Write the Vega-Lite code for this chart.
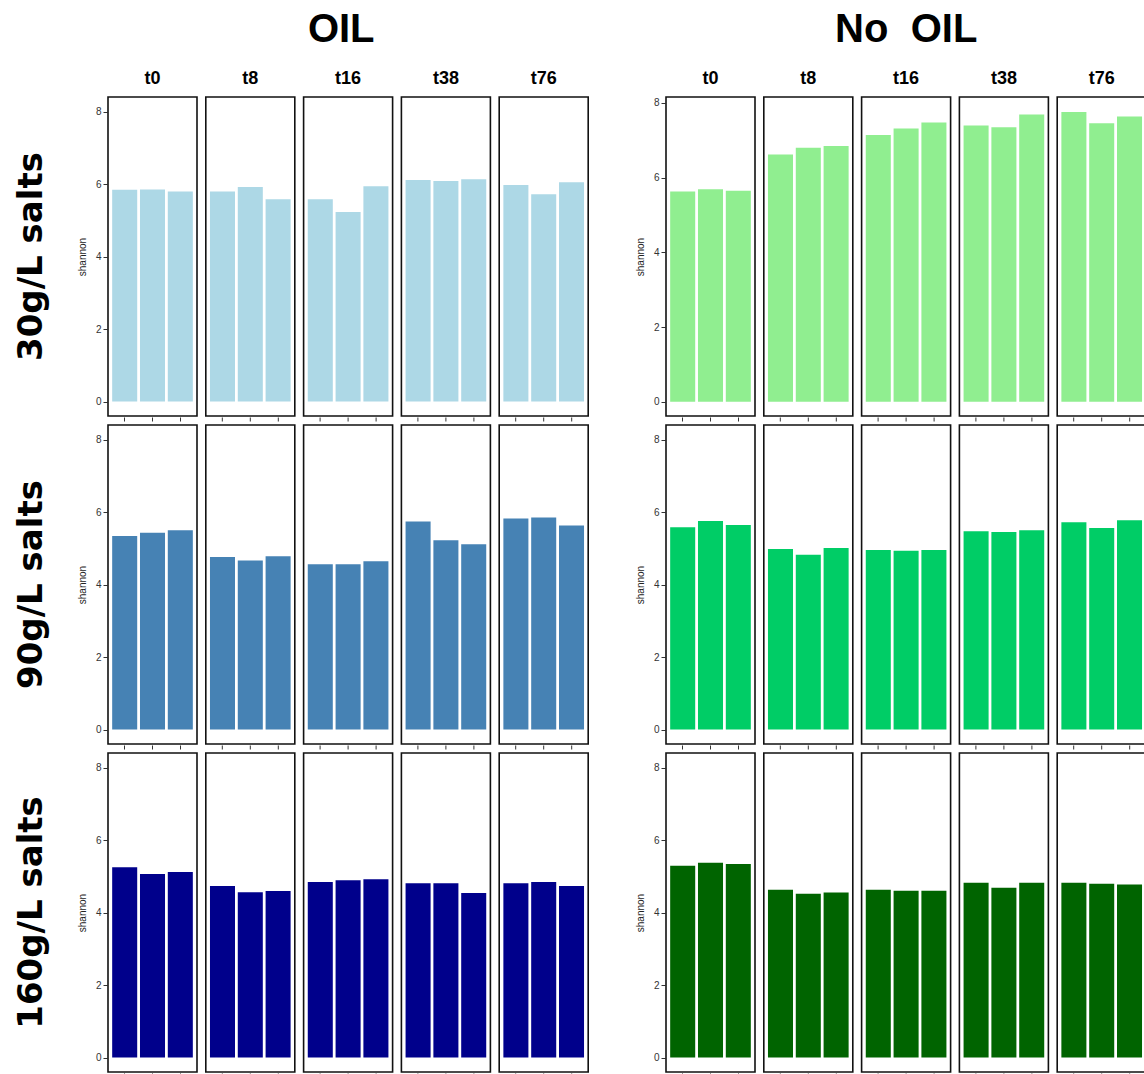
{
  "$schema": "https://vega.github.io/schema/vega-lite/v6.json",
  "padding": {"left": 15, "top": 10, "right": 0, "bottom": 0},
  "background": "white",
  "config": {
    "font": "Liberation Sans",
    "view": {"stroke": "#111111", "strokeWidth": 1.6},
    "facet": {"spacing": 6.8},
    "axis": {"grid": false},
    "axisX": {"labels": false, "ticks": true, "tickSize": 4, "tickColor": "#333333", "domain": false, "title": null},
    "axisY": {"tickSize": 4, "tickColor": "#333333", "labelFontSize": 10, "labelColor": "#333333", "labelPadding": 2, "domain": false, "titleFontSize": 10, "titleFontWeight": "normal", "titleColor": "#222222", "titlePadding": 8},
    "headerColumn": {"labelFontSize": 18, "labelFontWeight": "bold", "labelColor": "#000000", "labelPadding": 8},
    "headerRow": {"labelFontSize": 34, "labelFont": "DejaVu Sans", "labelFontWeight": "bold", "labelColor": "#000000", "labelAngle": -90, "labelOrient": "left", "labelPadding": 11},
    "title": {"fontSize": 40, "fontWeight": "bold", "color": "#000000", "anchor": "middle"}
  },
  "datasets": {
    "shannon": [
      {"oil": "OIL", "salt": "30g/L salts", "time": "t0", "rep": 1, "shannon": 5.84},
      {"oil": "OIL", "salt": "30g/L salts", "time": "t0", "rep": 2, "shannon": 5.85},
      {"oil": "OIL", "salt": "30g/L salts", "time": "t0", "rep": 3, "shannon": 5.79},
      {"oil": "OIL", "salt": "30g/L salts", "time": "t8", "rep": 1, "shannon": 5.79},
      {"oil": "OIL", "salt": "30g/L salts", "time": "t8", "rep": 2, "shannon": 5.92},
      {"oil": "OIL", "salt": "30g/L salts", "time": "t8", "rep": 3, "shannon": 5.58},
      {"oil": "OIL", "salt": "30g/L salts", "time": "t16", "rep": 1, "shannon": 5.58},
      {"oil": "OIL", "salt": "30g/L salts", "time": "t16", "rep": 2, "shannon": 5.23},
      {"oil": "OIL", "salt": "30g/L salts", "time": "t16", "rep": 3, "shannon": 5.94},
      {"oil": "OIL", "salt": "30g/L salts", "time": "t38", "rep": 1, "shannon": 6.11},
      {"oil": "OIL", "salt": "30g/L salts", "time": "t38", "rep": 2, "shannon": 6.08},
      {"oil": "OIL", "salt": "30g/L salts", "time": "t38", "rep": 3, "shannon": 6.13},
      {"oil": "OIL", "salt": "30g/L salts", "time": "t76", "rep": 1, "shannon": 5.97},
      {"oil": "OIL", "salt": "30g/L salts", "time": "t76", "rep": 2, "shannon": 5.72},
      {"oil": "OIL", "salt": "30g/L salts", "time": "t76", "rep": 3, "shannon": 6.05},
      {"oil": "OIL", "salt": "90g/L salts", "time": "t0", "rep": 1, "shannon": 5.34},
      {"oil": "OIL", "salt": "90g/L salts", "time": "t0", "rep": 2, "shannon": 5.43},
      {"oil": "OIL", "salt": "90g/L salts", "time": "t0", "rep": 3, "shannon": 5.5},
      {"oil": "OIL", "salt": "90g/L salts", "time": "t8", "rep": 1, "shannon": 4.76},
      {"oil": "OIL", "salt": "90g/L salts", "time": "t8", "rep": 2, "shannon": 4.66},
      {"oil": "OIL", "salt": "90g/L salts", "time": "t8", "rep": 3, "shannon": 4.78},
      {"oil": "OIL", "salt": "90g/L salts", "time": "t16", "rep": 1, "shannon": 4.56},
      {"oil": "OIL", "salt": "90g/L salts", "time": "t16", "rep": 2, "shannon": 4.56},
      {"oil": "OIL", "salt": "90g/L salts", "time": "t16", "rep": 3, "shannon": 4.64},
      {"oil": "OIL", "salt": "90g/L salts", "time": "t38", "rep": 1, "shannon": 5.74},
      {"oil": "OIL", "salt": "90g/L salts", "time": "t38", "rep": 2, "shannon": 5.22},
      {"oil": "OIL", "salt": "90g/L salts", "time": "t38", "rep": 3, "shannon": 5.11},
      {"oil": "OIL", "salt": "90g/L salts", "time": "t76", "rep": 1, "shannon": 5.82},
      {"oil": "OIL", "salt": "90g/L salts", "time": "t76", "rep": 2, "shannon": 5.85},
      {"oil": "OIL", "salt": "90g/L salts", "time": "t76", "rep": 3, "shannon": 5.63},
      {"oil": "OIL", "salt": "160g/L salts", "time": "t0", "rep": 1, "shannon": 5.25},
      {"oil": "OIL", "salt": "160g/L salts", "time": "t0", "rep": 2, "shannon": 5.06},
      {"oil": "OIL", "salt": "160g/L salts", "time": "t0", "rep": 3, "shannon": 5.12},
      {"oil": "OIL", "salt": "160g/L salts", "time": "t8", "rep": 1, "shannon": 4.73},
      {"oil": "OIL", "salt": "160g/L salts", "time": "t8", "rep": 2, "shannon": 4.56},
      {"oil": "OIL", "salt": "160g/L salts", "time": "t8", "rep": 3, "shannon": 4.59},
      {"oil": "OIL", "salt": "160g/L salts", "time": "t16", "rep": 1, "shannon": 4.84},
      {"oil": "OIL", "salt": "160g/L salts", "time": "t16", "rep": 2, "shannon": 4.89},
      {"oil": "OIL", "salt": "160g/L salts", "time": "t16", "rep": 3, "shannon": 4.92},
      {"oil": "OIL", "salt": "160g/L salts", "time": "t38", "rep": 1, "shannon": 4.81},
      {"oil": "OIL", "salt": "160g/L salts", "time": "t38", "rep": 2, "shannon": 4.81},
      {"oil": "OIL", "salt": "160g/L salts", "time": "t38", "rep": 3, "shannon": 4.54},
      {"oil": "OIL", "salt": "160g/L salts", "time": "t76", "rep": 1, "shannon": 4.81},
      {"oil": "OIL", "salt": "160g/L salts", "time": "t76", "rep": 2, "shannon": 4.84},
      {"oil": "OIL", "salt": "160g/L salts", "time": "t76", "rep": 3, "shannon": 4.73},
      {"oil": "No OIL", "salt": "30g/L salts", "time": "t0", "rep": 1, "shannon": 5.63},
      {"oil": "No OIL", "salt": "30g/L salts", "time": "t0", "rep": 2, "shannon": 5.69},
      {"oil": "No OIL", "salt": "30g/L salts", "time": "t0", "rep": 3, "shannon": 5.65},
      {"oil": "No OIL", "salt": "30g/L salts", "time": "t8", "rep": 1, "shannon": 6.62},
      {"oil": "No OIL", "salt": "30g/L salts", "time": "t8", "rep": 2, "shannon": 6.8},
      {"oil": "No OIL", "salt": "30g/L salts", "time": "t8", "rep": 3, "shannon": 6.85},
      {"oil": "No OIL", "salt": "30g/L salts", "time": "t16", "rep": 1, "shannon": 7.14},
      {"oil": "No OIL", "salt": "30g/L salts", "time": "t16", "rep": 2, "shannon": 7.32},
      {"oil": "No OIL", "salt": "30g/L salts", "time": "t16", "rep": 3, "shannon": 7.48},
      {"oil": "No OIL", "salt": "30g/L salts", "time": "t38", "rep": 1, "shannon": 7.4},
      {"oil": "No OIL", "salt": "30g/L salts", "time": "t38", "rep": 2, "shannon": 7.35},
      {"oil": "No OIL", "salt": "30g/L salts", "time": "t38", "rep": 3, "shannon": 7.69},
      {"oil": "No OIL", "salt": "30g/L salts", "time": "t76", "rep": 1, "shannon": 7.76},
      {"oil": "No OIL", "salt": "30g/L salts", "time": "t76", "rep": 2, "shannon": 7.46},
      {"oil": "No OIL", "salt": "30g/L salts", "time": "t76", "rep": 3, "shannon": 7.64},
      {"oil": "No OIL", "salt": "90g/L salts", "time": "t0", "rep": 1, "shannon": 5.58},
      {"oil": "No OIL", "salt": "90g/L salts", "time": "t0", "rep": 2, "shannon": 5.75},
      {"oil": "No OIL", "salt": "90g/L salts", "time": "t0", "rep": 3, "shannon": 5.64},
      {"oil": "No OIL", "salt": "90g/L salts", "time": "t8", "rep": 1, "shannon": 4.98},
      {"oil": "No OIL", "salt": "90g/L salts", "time": "t8", "rep": 2, "shannon": 4.82},
      {"oil": "No OIL", "salt": "90g/L salts", "time": "t8", "rep": 3, "shannon": 5.01},
      {"oil": "No OIL", "salt": "90g/L salts", "time": "t16", "rep": 1, "shannon": 4.95},
      {"oil": "No OIL", "salt": "90g/L salts", "time": "t16", "rep": 2, "shannon": 4.93},
      {"oil": "No OIL", "salt": "90g/L salts", "time": "t16", "rep": 3, "shannon": 4.95},
      {"oil": "No OIL", "salt": "90g/L salts", "time": "t38", "rep": 1, "shannon": 5.47},
      {"oil": "No OIL", "salt": "90g/L salts", "time": "t38", "rep": 2, "shannon": 5.45},
      {"oil": "No OIL", "salt": "90g/L salts", "time": "t38", "rep": 3, "shannon": 5.5},
      {"oil": "No OIL", "salt": "90g/L salts", "time": "t76", "rep": 1, "shannon": 5.72},
      {"oil": "No OIL", "salt": "90g/L salts", "time": "t76", "rep": 2, "shannon": 5.56},
      {"oil": "No OIL", "salt": "90g/L salts", "time": "t76", "rep": 3, "shannon": 5.77},
      {"oil": "No OIL", "salt": "160g/L salts", "time": "t0", "rep": 1, "shannon": 5.29},
      {"oil": "No OIL", "salt": "160g/L salts", "time": "t0", "rep": 2, "shannon": 5.37},
      {"oil": "No OIL", "salt": "160g/L salts", "time": "t0", "rep": 3, "shannon": 5.34},
      {"oil": "No OIL", "salt": "160g/L salts", "time": "t8", "rep": 1, "shannon": 4.63},
      {"oil": "No OIL", "salt": "160g/L salts", "time": "t8", "rep": 2, "shannon": 4.52},
      {"oil": "No OIL", "salt": "160g/L salts", "time": "t8", "rep": 3, "shannon": 4.55},
      {"oil": "No OIL", "salt": "160g/L salts", "time": "t16", "rep": 1, "shannon": 4.63},
      {"oil": "No OIL", "salt": "160g/L salts", "time": "t16", "rep": 2, "shannon": 4.6},
      {"oil": "No OIL", "salt": "160g/L salts", "time": "t16", "rep": 3, "shannon": 4.6},
      {"oil": "No OIL", "salt": "160g/L salts", "time": "t38", "rep": 1, "shannon": 4.82},
      {"oil": "No OIL", "salt": "160g/L salts", "time": "t38", "rep": 2, "shannon": 4.68},
      {"oil": "No OIL", "salt": "160g/L salts", "time": "t38", "rep": 3, "shannon": 4.82},
      {"oil": "No OIL", "salt": "160g/L salts", "time": "t76", "rep": 1, "shannon": 4.82},
      {"oil": "No OIL", "salt": "160g/L salts", "time": "t76", "rep": 2, "shannon": 4.79},
      {"oil": "No OIL", "salt": "160g/L salts", "time": "t76", "rep": 3, "shannon": 4.77}
    ]
  },
  "hconcat": [
    {
      "title": {"text": "OIL", "dx": 39, "offset": 20},
      "spacing": 2,
      "vconcat": [
        {
          "data": {"name": "shannon"},
          "transform": [{"filter": "datum.oil == 'OIL' && datum.salt == '30g/L salts'"}],
          "facet": {
            "row": {"field": "salt", "type": "nominal", "header": {"title": null}},
            "column": {"field": "time", "type": "ordinal", "sort": ["t0", "t8", "t16", "t38", "t76"], "header": {"title": null}}
          },
          "spec": {
            "width": 89, "height": 319,
            "mark": {"type": "bar", "color": "#ADD8E6"},
            "encoding": {
              "x": {"field": "rep", "type": "nominal", "scale": {"paddingInner": 0.1, "paddingOuter": 0.15}},
              "y": {"field": "shannon", "type": "quantitative", "scale": {"domain": [-0.4, 8.4], "zero": false, "nice": false}, "axis": {"title": "shannon", "values": [0, 2, 4, 6, 8]}}
            }
          }
        },
        {
          "data": {"name": "shannon"},
          "transform": [{"filter": "datum.oil == 'OIL' && datum.salt == '90g/L salts'"}],
          "facet": {
            "row": {"field": "salt", "type": "nominal", "header": {"title": null}},
            "column": {"field": "time", "type": "ordinal", "sort": ["t0", "t8", "t16", "t38", "t76"], "header": {"title": null, "labels": false}}
          },
          "spec": {
            "width": 89, "height": 319,
            "mark": {"type": "bar", "color": "#4682B4"},
            "encoding": {
              "x": {"field": "rep", "type": "nominal", "scale": {"paddingInner": 0.1, "paddingOuter": 0.15}},
              "y": {"field": "shannon", "type": "quantitative", "scale": {"domain": [-0.4, 8.4], "zero": false, "nice": false}, "axis": {"title": "shannon", "values": [0, 2, 4, 6, 8]}}
            }
          }
        },
        {
          "data": {"name": "shannon"},
          "transform": [{"filter": "datum.oil == 'OIL' && datum.salt == '160g/L salts'"}],
          "facet": {
            "row": {"field": "salt", "type": "nominal", "header": {"title": null}},
            "column": {"field": "time", "type": "ordinal", "sort": ["t0", "t8", "t16", "t38", "t76"], "header": {"title": null, "labels": false}}
          },
          "spec": {
            "width": 89, "height": 319,
            "mark": {"type": "bar", "color": "#00008B"},
            "encoding": {
              "x": {"field": "rep", "type": "nominal", "scale": {"paddingInner": 0.1, "paddingOuter": 0.15}},
              "y": {"field": "shannon", "type": "quantitative", "scale": {"domain": [-0.4, 8.4], "zero": false, "nice": false}, "axis": {"title": "shannon", "values": [0, 2, 4, 6, 8]}}
            }
          }
        }
      ]
    },
    {
      "title": {"text": "No\u00a0\u00a0OIL", "dx": 15, "offset": 20},
      "spacing": 2,
      "vconcat": [
        {
          "data": {"name": "shannon"},
          "transform": [{"filter": "datum.oil == 'No OIL' && datum.salt == '30g/L salts'"}],
          "facet": {
            "column": {"field": "time", "type": "ordinal", "sort": ["t0", "t8", "t16", "t38", "t76"], "header": {"title": null}}
          },
          "spec": {
            "width": 89, "height": 319,
            "mark": {"type": "bar", "color": "#90EE90"},
            "encoding": {
              "x": {"field": "rep", "type": "nominal", "scale": {"paddingInner": 0.1, "paddingOuter": 0.15}},
              "y": {"field": "shannon", "type": "quantitative", "scale": {"domain": [-0.38, 8.16], "zero": false, "nice": false}, "axis": {"title": "shannon", "values": [0, 2, 4, 6, 8]}}
            }
          }
        },
        {
          "data": {"name": "shannon"},
          "transform": [{"filter": "datum.oil == 'No OIL' && datum.salt == '90g/L salts'"}],
          "facet": {
            "column": {"field": "time", "type": "ordinal", "sort": ["t0", "t8", "t16", "t38", "t76"], "header": {"title": null, "labels": false}}
          },
          "spec": {
            "width": 89, "height": 319,
            "mark": {"type": "bar", "color": "#00CD66"},
            "encoding": {
              "x": {"field": "rep", "type": "nominal", "scale": {"paddingInner": 0.1, "paddingOuter": 0.15}},
              "y": {"field": "shannon", "type": "quantitative", "scale": {"domain": [-0.4, 8.4], "zero": false, "nice": false}, "axis": {"title": "shannon", "values": [0, 2, 4, 6, 8]}}
            }
          }
        },
        {
          "data": {"name": "shannon"},
          "transform": [{"filter": "datum.oil == 'No OIL' && datum.salt == '160g/L salts'"}],
          "facet": {
            "column": {"field": "time", "type": "ordinal", "sort": ["t0", "t8", "t16", "t38", "t76"], "header": {"title": null, "labels": false}}
          },
          "spec": {
            "width": 89, "height": 319,
            "mark": {"type": "bar", "color": "#006400"},
            "encoding": {
              "x": {"field": "rep", "type": "nominal", "scale": {"paddingInner": 0.1, "paddingOuter": 0.15}},
              "y": {"field": "shannon", "type": "quantitative", "scale": {"domain": [-0.4, 8.4], "zero": false, "nice": false}, "axis": {"title": "shannon", "values": [0, 2, 4, 6, 8]}}
            }
          }
        }
      ]
    }
  ],
  "spacing": 46
}
